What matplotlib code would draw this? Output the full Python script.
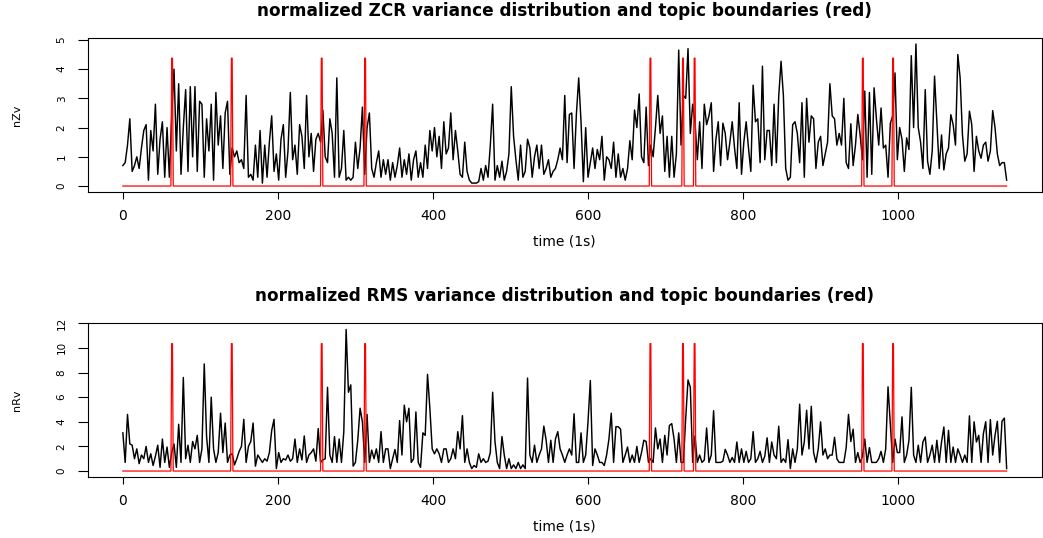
import numpy as np
import matplotlib
matplotlib.use("Agg")
import matplotlib.pyplot as plt

plt.rcParams['font.family'] = ['DejaVu Sans']

# values, one every 3 s (0 .. 1140 s)
zcr_rows = [
    [0.7, 0.8, 1.4, 2.3, 0.5, 0.7, 1.0, 0.6, 1.3, 1.9, 2.1, 0.2, 1.9, 1.2, 2.8, 0.4, 1.6, 2.2, 0.3, 2.0],
    [0.3, 2.4, 4.0, 1.2, 3.5, 0.4, 2.0, 3.3, 0.5, 3.4, 1.0, 3.4, 0.5, 2.9, 2.8, 0.3, 2.3, 1.2, 2.8, 0.2],
    [3.2, 1.4, 2.4, 0.6, 2.5, 2.9, 0.4, 1.3, 1.0, 1.2, 0.8, 0.9, 0.6, 3.1, 0.3, 0.4, 0.2, 1.4, 0.3, 1.9],
    [0.1, 1.4, 0.3, 1.5, 2.4, 0.5, 1.1, 0.2, 1.6, 2.1, 0.3, 1.2, 3.2, 0.9, 1.4, 0.4, 2.1, 1.7, 0.6, 3.1],
    [1.0, 1.8, 0.5, 1.6, 1.8, 1.5, 2.6, 1.0, 0.8, 2.3, 1.8, 0.3, 3.7, 0.3, 0.6, 1.9, 0.2, 0.3, 0.2, 0.3],
    [1.5, 0.6, 1.3, 2.7, 0.4, 2.0, 2.5, 0.6, 0.3, 0.8, 1.2, 0.3, 0.9, 0.4, 0.9, 0.2, 0.8, 0.3, 0.7, 1.3],
    [0.3, 0.9, 0.4, 1.1, 0.2, 0.9, 1.2, 0.3, 0.8, 0.3, 1.4, 0.6, 1.9, 1.2, 2.0, 1.0, 1.7, 0.6, 2.2, 1.1],
    [1.3, 2.5, 0.9, 1.9, 1.2, 0.4, 0.3, 1.5, 0.5, 0.2, 0.1, 0.1, 0.1, 0.15, 0.6, 0.2, 0.7, 0.3, 1.4, 2.8],
    [0.2, 0.7, 0.3, 0.85, 0.2, 0.5, 1.1, 3.4, 1.7, 0.9, 0.2, 1.4, 0.3, 0.5, 1.6, 1.3, 0.3, 1.0, 1.4, 0.6],
    [1.4, 0.4, 0.6, 0.9, 0.3, 0.5, 0.6, 0.9, 1.3, 0.9, 3.1, 0.8, 2.45, 2.5, 0.6, 2.45, 3.7, 2.2, 0.15, 2.0],
    [0.3, 0.8, 1.3, 0.6, 1.25, 0.9, 1.7, 0.2, 1.0, 0.9, 0.6, 1.5, 0.3, 1.1, 0.3, 0.6, 0.2, 0.6, 1.55, 0.9],
    [2.6, 2.0, 3.15, 1.0, 0.8, 2.7, 0.7, 1.4, 1.0, 2.0, 3.1, 1.8, 2.4, 0.5, 1.7, 0.3, 1.7, 0.3, 1.1, 4.65],
    [1.4, 3.1, 3.0, 4.7, 1.8, 2.8, 2.2, 0.9, 2.2, 0.6, 2.8, 2.1, 2.4, 2.85, 0.5, 1.6, 2.2, 0.7, 2.15, 1.8],
    [0.9, 1.5, 2.2, 1.3, 0.6, 2.85, 0.4, 1.5, 2.2, 1.3, 0.5, 3.45, 2.2, 2.3, 0.8, 4.1, 0.9, 1.9, 1.9, 0.7],
    [2.8, 0.8, 3.07, 4.27, 3.1, 0.6, 0.2, 0.3, 2.1, 2.2, 1.8, 0.8, 2.85, 0.3, 3.0, 1.5, 2.4, 2.3, 0.6, 1.5],
    [1.7, 0.7, 1.1, 1.5, 3.5, 2.4, 2.3, 1.4, 1.8, 1.4, 3.0, 0.8, 0.6, 2.13, 0.7, 1.4, 2.45, 1.75, 0.9, 3.25],
    [0.3, 3.2, 0.4, 3.36, 2.3, 1.4, 2.67, 1.3, 1.4, 0.3, 2.15, 2.4, 3.87, 0.9, 2.0, 1.6, 0.5, 1.65, 1.25, 4.46],
    [2.0, 4.86, 2.0, 1.5, 0.6, 3.3, 0.85, 0.4, 1.2, 3.76, 2.15, 0.6, 1.75, 0.55, 1.1, 1.3, 2.44, 2.1, 1.4, 4.5],
    [3.7, 1.75, 0.85, 1.1, 2.56, 2.1, 0.5, 1.7, 1.2, 0.95, 1.4, 1.5, 0.85, 1.2, 2.58, 2.0, 1.1, 0.7, 0.8, 0.8],
    [0.2],
]

rms_rows = [
    [3.1, 0.7, 4.6, 2.2, 2.1, 1.0, 1.8, 0.6, 1.3, 1.0, 2.0, 0.7, 1.4, 0.45, 1.2, 2.1, 0.3, 2.6, 0.7, 1.95],
    [0.3, 1.5, 2.2, 0.3, 3.8, 0.7, 7.6, 1.0, 2.1, 0.7, 2.4, 1.8, 2.9, 0.7, 1.8, 8.7, 2.8, 0.7, 6.0, 1.8],
    [0.7, 1.5, 4.7, 1.5, 3.9, 0.7, 1.3, 1.4, 0.5, 1.0, 1.6, 2.0, 4.2, 0.7, 2.0, 2.4, 3.9, 0.4, 1.3, 1.0],
    [0.7, 1.0, 0.8, 1.5, 3.3, 4.2, 0.2, 1.5, 0.7, 1.0, 0.9, 1.3, 0.8, 1.0, 2.6, 0.7, 1.8, 0.9, 2.85, 0.7],
    [1.3, 1.5, 1.8, 0.8, 3.45, 0.7, 0.9, 1.0, 6.8, 1.3, 0.7, 2.8, 0.7, 2.6, 0.7, 3.2, 11.5, 6.4, 7.0, 0.4],
    [0.7, 2.5, 5.1, 4.0, 0.7, 4.6, 0.7, 1.7, 1.0, 1.8, 0.7, 3.2, 0.7, 1.8, 1.8, 0.2, 1.0, 1.75, 0.7, 4.1],
    [1.3, 5.35, 4.0, 5.1, 0.7, 1.0, 4.8, 0.7, 0.3, 3.1, 2.9, 7.85, 5.1, 1.8, 1.4, 1.8, 1.4, 0.7, 1.8, 1.8],
    [0.7, 1.0, 1.8, 1.0, 3.2, 1.8, 4.5, 0.7, 1.8, 0.7, 0.2, 0.45, 0.3, 1.4, 0.7, 1.0, 0.7, 0.8, 1.5, 6.4],
    [2.4, 0.7, 0.2, 2.8, 1.3, 0.2, 1.0, 0.2, 0.5, 0.2, 0.7, 0.2, 0.5, 0.2, 7.55, 1.3, 0.7, 2.1, 0.7, 1.3],
    [1.8, 3.65, 2.5, 0.7, 2.5, 0.7, 2.6, 3.2, 1.8, 1.3, 0.7, 1.3, 1.8, 1.3, 4.65, 0.7, 0.7, 3.1, 0.7, 1.3],
    [4.0, 7.35, 0.45, 1.8, 1.3, 0.7, 0.7, 0.45, 1.3, 2.6, 4.7, 0.7, 3.6, 3.6, 3.4, 0.7, 1.3, 1.95, 0.7, 1.3],
    [0.7, 2.0, 0.7, 1.5, 2.5, 2.4, 0.7, 1.0, 0.7, 3.5, 1.8, 2.6, 0.7, 2.9, 1.3, 3.7, 3.85, 2.6, 0.7, 3.1],
    [0.7, 0.7, 4.26, 7.4, 6.8, 0.7, 2.85, 0.7, 1.3, 0.7, 0.9, 3.5, 0.7, 1.3, 4.9, 0.7, 0.7, 0.7, 0.8, 1.76],
    [1.3, 0.7, 1.1, 0.7, 2.36, 0.7, 1.8, 0.7, 1.6, 0.7, 1.0, 3.2, 0.7, 1.0, 1.6, 0.7, 1.2, 2.7, 0.7, 2.36],
    [1.3, 1.0, 3.64, 0.7, 1.0, 0.7, 2.55, 0.2, 1.8, 0.7, 1.8, 5.43, 1.3, 2.36, 4.94, 1.8, 5.26, 1.5, 0.7, 1.8],
    [4.0, 1.3, 1.8, 1.0, 1.3, 1.3, 2.74, 1.0, 0.7, 0.7, 0.7, 1.9, 4.6, 2.4, 3.4, 0.7, 1.5, 0.7, 1.2, 2.6],
    [0.7, 1.9, 0.7, 0.7, 0.7, 1.0, 1.6, 0.7, 1.8, 6.84, 3.7, 0.7, 2.6, 1.5, 1.5, 4.4, 0.7, 1.3, 2.5, 6.8],
    [1.3, 0.7, 2.1, 0.7, 2.36, 2.77, 0.7, 1.3, 2.1, 0.7, 2.5, 0.7, 2.36, 3.58, 0.7, 3.3, 0.7, 1.95, 0.7, 1.8],
    [1.3, 0.7, 1.3, 0.7, 4.48, 0.7, 4.0, 2.36, 2.9, 0.7, 3.04, 4.0, 0.7, 4.18, 1.3, 2.9, 4.04, 0.7, 4.04, 4.3],
    [0.2],
]

# topic boundaries (s)
boundaries = [63, 140, 256, 312, 680, 722, 737, 954, 993]

step = 3
duration = 1140

zcr = np.concatenate([np.array(r) for r in zcr_rows])
rms = np.concatenate([np.array(r) for r in rms_rows])
t_zcr = np.arange(len(zcr)) * step
t_rms = np.arange(len(rms)) * step


def boundary_signal(level):
    t = np.arange(duration + 1)
    sig = np.zeros(len(t))
    for b in boundaries:
        sig[b] = level
        sig[b + 1] = level
    return t, sig


W, H = 1043, 538
fig = plt.figure(figsize=(W / 100, H / 100), dpi=100)

panels = [
    (zcr, t_zcr, 'nZv', 'normalized ZCR variance distribution and topic boundaries (red)',
     [38.3, 191.7], range(0, 6)),
    (rms, t_rms, 'nRv', 'normalized RMS variance distribution and topic boundaries (red)',
     [323.3, 476.7], range(0, 13, 2)),
]

left_px, right_px = 87.5, 1042

for vals, t, ylab, title, (top_px, bot_px), yt in panels:
    h_px = bot_px - top_px
    ax = fig.add_axes([left_px / W, 1 - bot_px / H, (right_px - left_px) / W, h_px / H])
    ax.plot(t, vals, color='black', lw=1.05)
    tb, red = boundary_signal(0.9 * vals.max())
    ax.plot(tb, red, color='red', lw=0.9)

    ax.set_xlim(-0.04 * duration, duration * 1.04)
    ymax = vals.max()
    ax.set_ylim(-0.04 * ymax, ymax * 1.04)
    ax.set_xticks([0, 200, 400, 600, 800, 1000])
    ax.set_yticks(list(yt))
    ax.set_yticklabels([str(v) for v in yt], rotation=90, va='center', fontsize=7.5)
    ax.tick_params(axis='x', direction='out', length=5, width=0.8, pad=7.5, labelsize=10)
    ax.tick_params(axis='y', direction='out', length=7, width=0.8, pad=8)
    for s in ax.spines.values():
        s.set_linewidth(0.8)

    ax.set_xlabel('time (1s)', fontsize=10)
    ax.xaxis.set_label_coords(0.5, -(43 / h_px))
    ax.set_ylabel(ylab, fontsize=8)
    ax.yaxis.set_label_coords(-(65.5 / (right_px - left_px)), 0.5)
    ax.text(0.5, 1 + 27 / h_px, title, transform=ax.transAxes,
            ha='center', va='center', fontsize=12.2, fontweight='bold')

fig.savefig('out.png', dpi=100)
